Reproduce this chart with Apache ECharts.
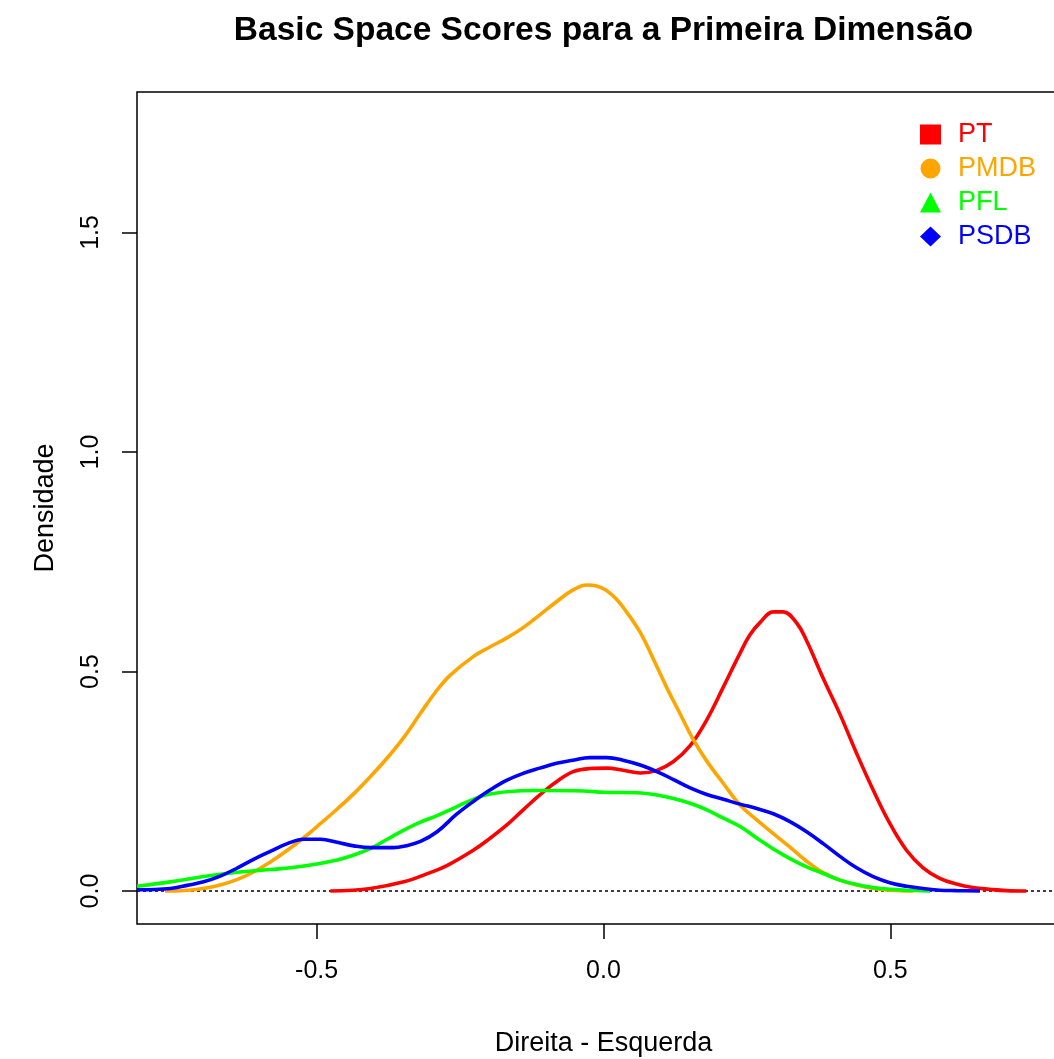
<!DOCTYPE html>
<html>
<head>
<meta charset="utf-8">
<script src="https://cdn.jsdelivr.net/npm/echarts@6/dist/echarts.min.js"></script>
<style>html,body{margin:0;padding:0;background:#fff;}#chart{width:1054px;height:1059px;}</style>
</head>
<body>
<div id="chart"></div>
<script>
const titleText = 'Basic Space Scores para a Primeira Dimensão';
const xAxisTitle = 'Direita - Esquerda';
const yAxisTitle = 'Densidade';
const xTicks = [-0.5, 0, 0.5];
const yTicks = [0, 0.5, 1, 1.5];
const seriesNames = ['PT', 'PMDB', 'PFL', 'PSDB'];
const seriesColors = ['#FF0000', '#FFA500', '#00FF00', '#0000FF'];
const legendIcons = ['rect', 'circle', 'triangle', 'diamond'];

const ptPoints = [[-0.476,0],[-0.406,0.006],[-0.348,0.021],[-0.302,0.042],[-0.273,0.058],[-0.227,0.093],[-0.198,0.12],[-0.169,0.150],[-0.140,0.185],[-0.111,0.219],[-0.082,0.249],[-0.053,0.272],[-0.024,0.279],[0.006,0.280],[0.034,0.275],[0.064,0.269],[0.093,0.275],[0.122,0.295],[0.151,0.331],[0.180,0.39],[0.209,0.465],[0.238,0.542],[0.255,0.583],[0.273,0.612],[0.296,0.636],[0.313,0.636],[0.337,0.610],[0.354,0.570],[0.383,0.484],[0.412,0.403],[0.441,0.314],[0.470,0.230],[0.499,0.154],[0.528,0.093],[0.557,0.053],[0.586,0.029],[0.615,0.016],[0.644,0.008],[0.673,0.004],[0.702,0.001],[0.737,0]];
const pmdbPoints = [[-0.764,0],[-0.714,0.003],[-0.668,0.014],[-0.639,0.026],[-0.609,0.044],[-0.580,0.067],[-0.551,0.093],[-0.522,0.122],[-0.493,0.154],[-0.464,0.187],[-0.435,0.222],[-0.406,0.261],[-0.377,0.303],[-0.348,0.350],[-0.319,0.405],[-0.290,0.458],[-0.267,0.492],[-0.227,0.534],[-0.198,0.556],[-0.169,0.576],[-0.140,0.600],[-0.111,0.629],[-0.082,0.659],[-0.053,0.686],[-0.029,0.697],[-0.012,0.695],[0.017,0.672],[0.040,0.636],[0.064,0.589],[0.087,0.528],[0.110,0.464],[0.133,0.405],[0.156,0.346],[0.180,0.296],[0.209,0.245],[0.238,0.196],[0.267,0.162],[0.296,0.131],[0.325,0.100],[0.354,0.068],[0.383,0.042],[0.412,0.025],[0.441,0.014],[0.471,0.006],[0.5,0.002],[0.54,0]];
const pflPoints = [[-0.813,0.011],[-0.755,0.021],[-0.697,0.033],[-0.639,0.043],[-0.580,0.049],[-0.522,0.057],[-0.464,0.071],[-0.435,0.082],[-0.406,0.097],[-0.377,0.118],[-0.348,0.139],[-0.319,0.157],[-0.290,0.172],[-0.256,0.192],[-0.227,0.209],[-0.198,0.221],[-0.151,0.228],[-0.111,0.229],[-0.035,0.228],[0.000,0.225],[0.058,0.224],[0.093,0.219],[0.122,0.211],[0.151,0.2],[0.180,0.185],[0.209,0.166],[0.238,0.147],[0.267,0.121],[0.296,0.096],[0.325,0.074],[0.354,0.055],[0.383,0.040],[0.412,0.025],[0.441,0.015],[0.470,0.008],[0.499,0.004],[0.529,0.002],[0.569,0]];
const psdbPoints = [[-0.813,0.003],[-0.755,0.006],[-0.726,0.013],[-0.697,0.021],[-0.668,0.034],[-0.639,0.052],[-0.609,0.073],[-0.580,0.091],[-0.551,0.108],[-0.522,0.118],[-0.493,0.118],[-0.464,0.111],[-0.435,0.103],[-0.406,0.099],[-0.366,0.099],[-0.348,0.102],[-0.319,0.113],[-0.290,0.135],[-0.256,0.175],[-0.227,0.204],[-0.198,0.230],[-0.169,0.252],[-0.140,0.268],[-0.111,0.280],[-0.082,0.291],[-0.053,0.298],[-0.024,0.304],[0.006,0.304],[0.034,0.298],[0.064,0.287],[0.093,0.272],[0.122,0.254],[0.151,0.235],[0.180,0.220],[0.209,0.209],[0.238,0.198],[0.267,0.188],[0.296,0.176],[0.325,0.158],[0.354,0.135],[0.383,0.108],[0.412,0.079],[0.441,0.053],[0.470,0.033],[0.499,0.019],[0.528,0.011],[0.557,0.006],[0.586,0.002],[0.615,0.001],[0.656,0]];
const allPoints = [ptPoints, pmdbPoints, pflPoints, psdbPoints];

const FONT = '"Liberation Sans", Arial, Helvetica, sans-serif';
const chart = echarts.init(document.getElementById('chart'), null, {renderer: 'canvas'});

const series = seriesNames.map((name, i) => ({
  name: name,
  type: 'line',
  data: allPoints[i],
  showSymbol: false,
  symbol: legendIcons[i],
  smooth: 0.4,
  lineStyle: {color: seriesColors[i], width: 3.6},
  itemStyle: {color: seriesColors[i]},
  z: 3,
  markLine: i === 0 ? {
    silent: true,
    symbol: ['none', 'none'],
    label: {show: false},
    lineStyle: {color: '#000', type: [3, 3], width: 1.5},
    data: [{yAxis: 0}],
    z: 1
  } : undefined
}));

chart.setOption({
  animation: false,
  backgroundColor: '#ffffff',
  title: {
    text: titleText,
    left: 603.5,
    top: 14,
    padding: 0,
    textAlign: 'center',
    textStyle: {fontFamily: FONT, fontSize: 33.5, fontWeight: 'bold', color: '#000'}
  },
  legend: {
    orient: 'vertical',
    left: 920,
    top: 121,
    itemWidth: 21,
    itemHeight: 20,
    itemGap: 7,
    padding: 0,
    data: seriesNames.map((n, i) => ({name: n, icon: legendIcons[i], textStyle: {color: seriesColors[i]}})),
    textStyle: {fontFamily: FONT, fontSize: 27, padding: [0, 0, 0, 12]}
  },
  grid: {
    left: 137, top: 92, width: 933, height: 832,
    outerBoundsMode: 'none',
    containLabel: false,
    show: true, borderColor: '#000', borderWidth: 1.5, backgroundColor: 'transparent'
  },
  xAxis: {
    type: 'value',
    min: -0.813, max: 0.813,
    name: xAxisTitle,
    nameLocation: 'middle',
    nameGap: 106,
    nameTextStyle: {fontFamily: FONT, fontSize: 27, color: '#000'},
    splitLine: {show: false},
    axisLine: {show: false, onZero: false},
    axisTick: {show: true, inside: false, length: 15, customValues: xTicks, lineStyle: {color: '#000', width: 1.5}},
    axisLabel: {customValues: xTicks, margin: 35, fontFamily: FONT, fontSize: 25, color: '#000',
      formatter: v => v.toFixed(1)}
  },
  yAxis: {
    type: 'value',
    min: -0.075, max: 1.82,
    name: yAxisTitle,
    nameLocation: 'middle',
    nameGap: 78,
    nameRotate: 90,
    nameTextStyle: {fontFamily: FONT, fontSize: 27, color: '#000'},
    splitLine: {show: false},
    axisLine: {show: false, onZero: false},
    axisTick: {show: true, inside: false, length: 15, customValues: yTicks, lineStyle: {color: '#000', width: 1.5}},
    axisLabel: {customValues: yTicks, margin: 33, rotate: 90, fontFamily: FONT, fontSize: 25, color: '#000',
      formatter: v => v.toFixed(1)}
  },
  series: series
});
</script>
</body>
</html>
